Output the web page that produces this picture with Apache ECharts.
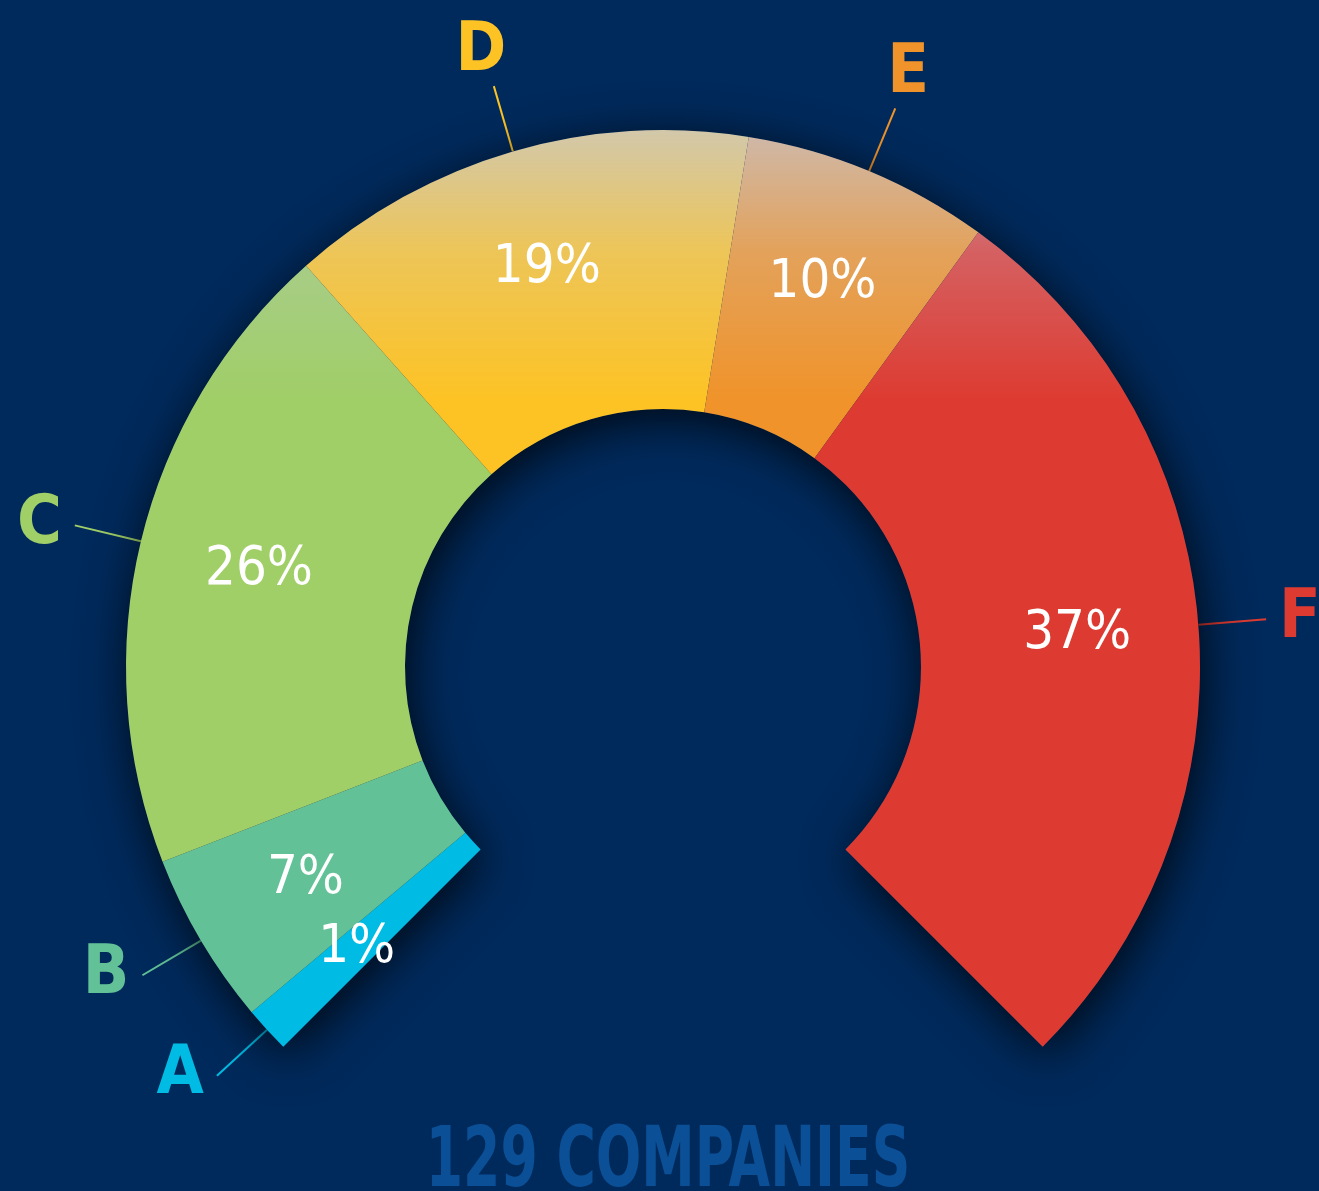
<!DOCTYPE html>
<html>
<head>
<meta charset="utf-8">
<script src="https://cdn.jsdelivr.net/npm/echarts@6/dist/echarts.min.js"></script>
<style>
  html, body { margin: 0; padding: 0; background: #002a5c; }
  #chart { width: 1319px; height: 1191px; }
</style>
</head>
<body>
<div id="chart"></div>
<script>
  // data
  const categories = ['A', 'B', 'C', 'D', 'E', 'F'];
  const shares = [1, 7, 26, 19, 10, 37];
  const colors = ['#00bce4', '#62c196', '#a0ce67', '#fdc325', '#f0932a', '#dd3b31'];
  const footer = '129 COMPANIES';

  const bg = '#002a5c';
  const condensed = '"Liberation Sans Narrow", "DejaVu Sans Condensed", "Arial Narrow", sans-serif';

  // pale wash over the top of the ring
  function mix(hex, k) {
    const n = parseInt(hex.slice(1), 16);
    const r = n >> 16, g = (n >> 8) & 255, b = n & 255;
    const w = [190, 203, 232];
    return 'rgb(' + Math.round(r + (w[0] - r) * k) + ',' + Math.round(g + (w[1] - g) * k) + ',' + Math.round(b + (w[2] - b) * k) + ')';
  }
  function shade(hex) {
    return new echarts.graphic.LinearGradient(0, 130, 0, 400, [
      { offset: 0, color: mix(hex, 0.68) },
      { offset: 0.45, color: mix(hex, 0.26) },
      { offset: 1, color: hex }
    ], true);
  }

  const ringData = categories.map(function (name, i) {
    return {
      name: name,
      value: shares[i],
      itemStyle: { color: shade(colors[i]) },
      label: { color: colors[i] },
      labelLine: { lineStyle: { color: colors[i] } }
    };
  });
  const textData = categories.map(function (name, i) {
    return { name: name, value: shares[i] };
  });

  const center = [663, 667];
  const common = {
    type: 'pie',
    center: center,
    startAngle: 225,
    endAngle: -45,
    clockwise: true,
    minAngle: 5,
    avoidLabelOverlap: false,
    animation: false
  };

  const option = {
    backgroundColor: bg,
    series: [
      // shadow under the whole ring
      Object.assign({}, common, {
        silent: true,
        radius: [258, 537],
        data: [{ value: 1 }],
        label: { show: false },
        itemStyle: {
          color: bg,
          shadowBlur: 50,
          shadowColor: 'rgba(0,0,0,0.8)',
          shadowOffsetX: 4,
          shadowOffsetY: 10
        }
      }),
      Object.assign({}, common, {
        radius: [258, 537],
        data: ringData,
        itemStyle: { borderWidth: 0 },
        label: {
          position: 'outside',
          formatter: '{b}',
          fontFamily: condensed,
          fontWeight: 'bold',
          fontSize: 68,
          distanceToLabelLine: 13
        },
        labelLine: {
          show: true,
          length: 68,
          length2: 0,
          lineStyle: { width: 2 }
        },
        labelLayout: function (p) {
          const pts = p.labelLinePoints;
          if (!pts) return {};
          const dx = pts[1][0] - pts[0][0];
          const dy = pts[1][1] - pts[0][1];
          if (Math.abs(dy) > Math.abs(dx)) {
            return { align: 'center', verticalAlign: dy < 0 ? 'bottom' : 'top' };
          }
          return {};
        }
      }),
      // percentage labels, a bit outside mid ring
      Object.assign({}, common, {
        silent: true,
        radius: [288, 537],
        data: textData,
        itemStyle: { color: 'rgba(0,0,0,0)' },
        label: {
          position: 'inside',
          formatter: '{c}%',
          color: '#fff',
          fontFamily: condensed,
          fontSize: 54
        },
        labelLine: { show: false }
      })
    ],
    graphic: [{
      type: 'text',
      x: 668,
      y: 1164,
      scaleX: 0.71,
      style: {
        text: footer,
        fill: '#0b5096',
        font: 'bold 84px ' + condensed,
        textAlign: 'center',
        textVerticalAlign: 'middle'
      }
    }]
  };

  const myChart = echarts.init(document.getElementById('chart'));
  myChart.setOption(option);
  window.onresize = myChart.resize;
</script>
</body>
</html>
